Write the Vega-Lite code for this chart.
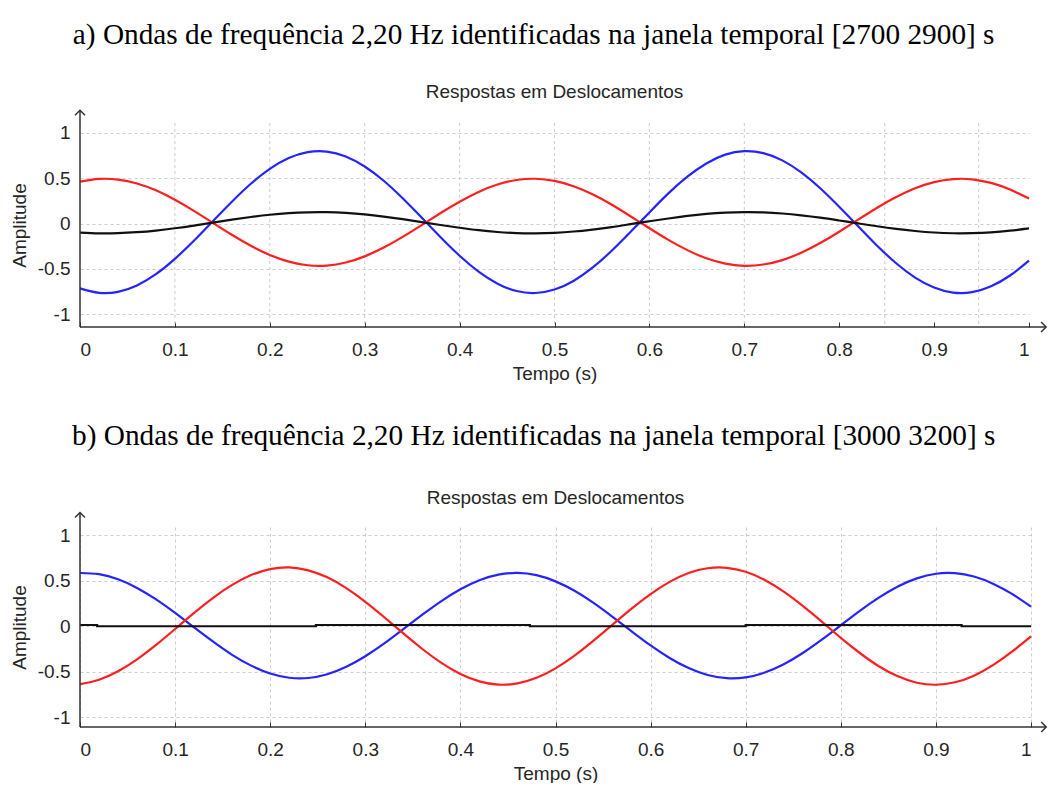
{
  "$schema": "https://vega.github.io/schema/vega-lite/v6.json",
  "background": "white",
  "padding": {"left": 10, "top": 21, "right": 0, "bottom": 0},
  "spacing": 39,
  "config": {
    "view": {"stroke": null},
    "font": "Liberation Sans",
    "axis": {
      "domain": false,
      "labelFont": "Liberation Sans",
      "labelFontSize": 19,
      "labelColor": "#262626",
      "titleFont": "Liberation Sans",
      "titleFontSize": 19,
      "titleFontWeight": "normal",
      "titleColor": "#262626",
      "gridColor": "#cccccc",
      "gridDash": [3, 3],
      "gridWidth": 1,
      "tickColor": "#333333",
      "tickWidth": 1
    },
    "axisX": {"tickSize": -5, "labelPadding": 18, "titlePadding": 5},
    "axisY": {"ticks": false, "labelPadding": 10, "titlePadding": 8},
    "line": {"strokeWidth": 2.2, "interpolate": "natural"}
  },
  "datasets": {
    "painelA": [
      {"t": 0, "vermelho": 0.463, "azul": -0.714, "preto": -0.099},
      {"t": 0.02, "vermelho": 0.493, "azul": -0.763, "preto": -0.107},
      {"t": 0.04, "vermelho": 0.486, "azul": -0.752, "preto": -0.105},
      {"t": 0.06, "vermelho": 0.443, "azul": -0.681, "preto": -0.094},
      {"t": 0.08, "vermelho": 0.367, "azul": -0.557, "preto": -0.076},
      {"t": 0.1, "vermelho": 0.263, "azul": -0.388, "preto": -0.051},
      {"t": 0.12, "vermelho": 0.141, "azul": -0.189, "preto": -0.021},
      {"t": 0.14, "vermelho": 0.009, "azul": 0.027, "preto": 0.012},
      {"t": 0.16, "vermelho": -0.123, "azul": 0.242, "preto": 0.044},
      {"t": 0.18, "vermelho": -0.244, "azul": 0.44, "preto": 0.073},
      {"t": 0.2, "vermelho": -0.345, "azul": 0.605, "preto": 0.098},
      {"t": 0.22, "vermelho": -0.419, "azul": 0.724, "preto": 0.116},
      {"t": 0.24, "vermelho": -0.459, "azul": 0.789, "preto": 0.125},
      {"t": 0.26, "vermelho": -0.462, "azul": 0.795, "preto": 0.126},
      {"t": 0.28, "vermelho": -0.429, "azul": 0.74, "preto": 0.118},
      {"t": 0.3, "vermelho": -0.361, "azul": 0.63, "preto": 0.102},
      {"t": 0.32, "vermelho": -0.264, "azul": 0.473, "preto": 0.078},
      {"t": 0.34, "vermelho": -0.146, "azul": 0.28, "preto": 0.049},
      {"t": 0.36, "vermelho": -0.016, "azul": 0.067, "preto": 0.017},
      {"t": 0.38, "vermelho": 0.117, "azul": -0.15, "preto": -0.015},
      {"t": 0.4, "vermelho": 0.242, "azul": -0.354, "preto": -0.045},
      {"t": 0.42, "vermelho": 0.35, "azul": -0.529, "preto": -0.072},
      {"t": 0.44, "vermelho": 0.431, "azul": -0.662, "preto": -0.092},
      {"t": 0.46, "vermelho": 0.481, "azul": -0.743, "preto": -0.104},
      {"t": 0.48, "vermelho": 0.495, "azul": -0.765, "preto": -0.107},
      {"t": 0.5, "vermelho": 0.471, "azul": -0.727, "preto": -0.101},
      {"t": 0.52, "vermelho": 0.413, "azul": -0.632, "preto": -0.087},
      {"t": 0.54, "vermelho": 0.324, "azul": -0.486, "preto": -0.065},
      {"t": 0.56, "vermelho": 0.211, "azul": -0.302, "preto": -0.038},
      {"t": 0.58, "vermelho": 0.082, "azul": -0.093, "preto": -0.006},
      {"t": 0.6, "vermelho": -0.051, "azul": 0.124, "preto": 0.026},
      {"t": 0.62, "vermelho": -0.179, "azul": 0.334, "preto": 0.057},
      {"t": 0.64, "vermelho": -0.292, "azul": 0.518, "preto": 0.085},
      {"t": 0.66, "vermelho": -0.382, "azul": 0.664, "preto": 0.107},
      {"t": 0.68, "vermelho": -0.441, "azul": 0.761, "preto": 0.121},
      {"t": 0.7, "vermelho": -0.465, "azul": 0.799, "preto": 0.127},
      {"t": 0.72, "vermelho": -0.451, "azul": 0.778, "preto": 0.124},
      {"t": 0.74, "vermelho": -0.402, "azul": 0.698, "preto": 0.112},
      {"t": 0.76, "vermelho": -0.321, "azul": 0.565, "preto": 0.092},
      {"t": 0.78, "vermelho": -0.214, "azul": 0.39, "preto": 0.066},
      {"t": 0.8, "vermelho": -0.089, "azul": 0.186, "preto": 0.035},
      {"t": 0.82, "vermelho": 0.044, "azul": -0.03, "preto": 0.003},
      {"t": 0.84, "vermelho": 0.175, "azul": -0.244, "preto": -0.029},
      {"t": 0.86, "vermelho": 0.293, "azul": -0.437, "preto": -0.058},
      {"t": 0.88, "vermelho": 0.39, "azul": -0.595, "preto": -0.081},
      {"t": 0.9, "vermelho": 0.458, "azul": -0.705, "preto": -0.098},
      {"t": 0.92, "vermelho": 0.492, "azul": -0.761, "preto": -0.106},
      {"t": 0.94, "vermelho": 0.489, "azul": -0.756, "preto": -0.105},
      {"t": 0.96, "vermelho": 0.449, "azul": -0.691, "preto": -0.096},
      {"t": 0.98, "vermelho": 0.376, "azul": -0.572, "preto": -0.078},
      {"t": 1, "vermelho": 0.276, "azul": -0.408, "preto": -0.053}
    ],
    "gradeA": [
      {"t": 0.1}, {"t": 0.2}, {"t": 0.3}, {"t": 0.4}, {"t": 0.5},
      {"t": 0.6}, {"t": 0.7}, {"t": 0.848}, {"t": 0.947}
    ],
    "painelB": [
      {"t": 0, "vermelho": -0.639, "azul": 0.584},
      {"t": 0.02, "vermelho": -0.59, "azul": 0.571},
      {"t": 0.04, "vermelho": -0.497, "azul": 0.515},
      {"t": 0.06, "vermelho": -0.366, "azul": 0.42},
      {"t": 0.08, "vermelho": -0.207, "azul": 0.293},
      {"t": 0.1, "vermelho": -0.032, "azul": 0.145},
      {"t": 0.12, "vermelho": 0.145, "azul": -0.014},
      {"t": 0.14, "vermelho": 0.311, "azul": -0.171},
      {"t": 0.16, "vermelho": 0.453, "azul": -0.316},
      {"t": 0.18, "vermelho": 0.561, "azul": -0.435},
      {"t": 0.2, "vermelho": 0.627, "azul": -0.522},
      {"t": 0.22, "vermelho": 0.645, "azul": -0.568},
      {"t": 0.24, "vermelho": 0.613, "azul": -0.571},
      {"t": 0.26, "vermelho": 0.536, "azul": -0.53},
      {"t": 0.28, "vermelho": 0.417, "azul": -0.448},
      {"t": 0.3, "vermelho": 0.267, "azul": -0.332},
      {"t": 0.32, "vermelho": 0.097, "azul": -0.191},
      {"t": 0.34, "vermelho": -0.081, "azul": -0.034},
      {"t": 0.36, "vermelho": -0.252, "azul": 0.125},
      {"t": 0.38, "vermelho": -0.405, "azul": 0.275},
      {"t": 0.4, "vermelho": -0.527, "azul": 0.405},
      {"t": 0.42, "vermelho": -0.608, "azul": 0.505},
      {"t": 0.44, "vermelho": -0.644, "azul": 0.566},
      {"t": 0.46, "vermelho": -0.63, "azul": 0.585},
      {"t": 0.48, "vermelho": -0.569, "azul": 0.56},
      {"t": 0.5, "vermelho": -0.465, "azul": 0.492},
      {"t": 0.52, "vermelho": -0.325, "azul": 0.388},
      {"t": 0.54, "vermelho": -0.16, "azul": 0.255},
      {"t": 0.56, "vermelho": 0.016, "azul": 0.102},
      {"t": 0.58, "vermelho": 0.192, "azul": -0.057},
      {"t": 0.6, "vermelho": 0.352, "azul": -0.213},
      {"t": 0.62, "vermelho": 0.486, "azul": -0.351},
      {"t": 0.64, "vermelho": 0.584, "azul": -0.462},
      {"t": 0.66, "vermelho": 0.636, "azul": -0.538},
      {"t": 0.68, "vermelho": 0.641, "azul": -0.573},
      {"t": 0.7, "vermelho": 0.597, "azul": -0.564},
      {"t": 0.72, "vermelho": 0.507, "azul": -0.511},
      {"t": 0.74, "vermelho": 0.379, "azul": -0.42},
      {"t": 0.76, "vermelho": 0.222, "azul": -0.296},
      {"t": 0.78, "vermelho": 0.049, "azul": -0.149},
      {"t": 0.8, "vermelho": -0.129, "azul": 0.009},
      {"t": 0.82, "vermelho": -0.296, "azul": 0.168},
      {"t": 0.84, "vermelho": -0.442, "azul": 0.313},
      {"t": 0.86, "vermelho": -0.553, "azul": 0.436},
      {"t": 0.88, "vermelho": -0.623, "azul": 0.525},
      {"t": 0.9, "vermelho": -0.645, "azul": 0.576},
      {"t": 0.92, "vermelho": -0.618, "azul": 0.582},
      {"t": 0.94, "vermelho": -0.545, "azul": 0.545},
      {"t": 0.96, "vermelho": -0.43, "azul": 0.467},
      {"t": 0.98, "vermelho": -0.282, "azul": 0.354},
      {"t": 1, "vermelho": -0.113, "azul": 0.214}
    ],
    "pretoB": [
      {"t": 0, "preto": 0.012},
      {"t": 0.018, "preto": -0.002},
      {"t": 0.248, "preto": 0.012},
      {"t": 0.473, "preto": -0.002},
      {"t": 0.7, "preto": 0.012},
      {"t": 0.927, "preto": -0.002},
      {"t": 1, "preto": -0.002}
    ]
  },
  "vconcat": [
    {
      "title": {
        "text": "a) Ondas de frequência 2,20 Hz identificadas na janela temporal [2700 2900] s",
        "font": "Liberation Serif", "fontSize": 29.3, "fontWeight": "normal", "color": "#000000",
        "anchor": "middle", "frame": "bounds", "offset": 33, "dx": 4
      },
      "vconcat": [
        {
          "width": 949,
          "height": 204,
          "title": {
            "text": "Respostas em Deslocamentos",
            "font": "Liberation Sans", "fontSize": 19, "fontWeight": "normal", "color": "#262626",
            "anchor": "middle", "offset": 5
          },
          "data": {"name": "painelA"},
          "layer": [
            {
              "data": {"name": "gradeA"},
              "mark": {"type": "rule", "color": "#cccccc", "strokeWidth": 1, "strokeDash": [3, 3]},
              "encoding": {
                "x": {"field": "t", "type": "quantitative"}
              }
            },
            {
              "mark": {"type": "line", "color": "#2424ff"},
              "encoding": {
                "x": {"field": "t", "type": "quantitative", "scale": {"domain": [0, 1], "nice": false, "zero": false},
                  "axis": {"values": [0, 0.1, 0.2, 0.3, 0.4, 0.5, 0.6, 0.7, 0.8, 0.9, 1], "format": "~g", "grid": false, "title": "Tempo (s)"}},
                "y": {"field": "azul", "type": "quantitative", "scale": {"domain": [-1.14, 1.11], "nice": false, "zero": false},
                  "axis": {"values": [-1, -0.5, 0, 0.5, 1], "grid": true, "title": "Amplitude",
                    "labelExpr": "datum.value < 0 ? '-' + format(-datum.value, '~g') : format(datum.value, '~g')"}}
              }
            },
            {
              "mark": {"type": "line", "color": "#ff1f1f"},
              "encoding": {
                "x": {"field": "t", "type": "quantitative"},
                "y": {"field": "vermelho", "type": "quantitative"}
              }
            },
            {
              "mark": {"type": "line", "color": "#111111"},
              "encoding": {
                "x": {"field": "t", "type": "quantitative"},
                "y": {"field": "preto", "type": "quantitative"}
              }
            },
            {
              "data": {"values": [{}]},
              "mark": {"type": "rule", "color": "#333333", "strokeWidth": 1.5},
              "encoding": {
                "x": {"datum": 0, "type": "quantitative"},
                "x2": {"datum": 1.018},
                "y": {"datum": -1.14, "type": "quantitative"}
              }
            },
            {
              "data": {"values": [{}]},
              "mark": {"type": "rule", "color": "#333333", "strokeWidth": 1.5},
              "encoding": {
                "x": {"datum": 0, "type": "quantitative"},
                "y": {"datum": -1.14, "type": "quantitative"},
                "y2": {"datum": 1.25}
              }
            },
            {
              "data": {"values": [{}]},
              "mark": {"type": "point", "shape": "M-1,-1L0,0L-1,1", "filled": false, "size": 100, "stroke": "#333333", "strokeWidth": 1.5, "opacity": 1},
              "encoding": {
                "x": {"datum": 1.018, "type": "quantitative"},
                "y": {"datum": -1.14, "type": "quantitative"}
              }
            },
            {
              "data": {"values": [{}]},
              "mark": {"type": "point", "shape": "M-1,1L0,0L1,1", "filled": false, "size": 100, "stroke": "#333333", "strokeWidth": 1.5, "opacity": 1},
              "encoding": {
                "x": {"datum": 0, "type": "quantitative"},
                "y": {"datum": 1.25, "type": "quantitative"}
              }
            }
          ]
        }
      ]
    },
    {
      "title": {
        "text": "b) Ondas de frequência 2,20 Hz identificadas na janela temporal [3000 3200] s",
        "font": "Liberation Serif", "fontSize": 29.3, "fontWeight": "normal", "color": "#000000",
        "anchor": "middle", "frame": "bounds", "offset": 38, "dx": 4
      },
      "vconcat": [
        {
          "width": 951,
          "height": 200,
          "title": {
            "text": "Respostas em Deslocamentos",
            "font": "Liberation Sans", "fontSize": 19, "fontWeight": "normal", "color": "#262626",
            "anchor": "middle", "offset": 1
          },
          "data": {"name": "painelB"},
          "layer": [
            {
              "mark": {"type": "line", "color": "#2424ff"},
              "encoding": {
                "x": {"field": "t", "type": "quantitative", "scale": {"domain": [0, 1], "nice": false, "zero": false},
                  "axis": {"values": [0, 0.1, 0.2, 0.3, 0.4, 0.5, 0.6, 0.7, 0.8, 0.9, 1], "format": "~g", "grid": true, "title": "Tempo (s)"}},
                "y": {"field": "azul", "type": "quantitative", "scale": {"domain": [-1.11, 1.09], "nice": false, "zero": false},
                  "axis": {"values": [-1, -0.5, 0, 0.5, 1], "grid": true, "title": "Amplitude",
                    "labelExpr": "datum.value < 0 ? '-' + format(-datum.value, '~g') : format(datum.value, '~g')"}}
              }
            },
            {
              "mark": {"type": "line", "color": "#ff1f1f"},
              "encoding": {
                "x": {"field": "t", "type": "quantitative"},
                "y": {"field": "vermelho", "type": "quantitative"}
              }
            },
            {
              "data": {"name": "pretoB"},
              "mark": {"type": "line", "color": "#111111", "interpolate": "step-after"},
              "encoding": {
                "x": {"field": "t", "type": "quantitative"},
                "y": {"field": "preto", "type": "quantitative"}
              }
            },
            {
              "data": {"values": [{}]},
              "mark": {"type": "rule", "color": "#333333", "strokeWidth": 1.5},
              "encoding": {
                "x": {"datum": 0, "type": "quantitative"},
                "x2": {"datum": 1.016},
                "y": {"datum": -1.11, "type": "quantitative"}
              }
            },
            {
              "data": {"values": [{}]},
              "mark": {"type": "rule", "color": "#333333", "strokeWidth": 1.5},
              "encoding": {
                "x": {"datum": 0, "type": "quantitative"},
                "y": {"datum": -1.11, "type": "quantitative"},
                "y2": {"datum": 1.25}
              }
            },
            {
              "data": {"values": [{}]},
              "mark": {"type": "point", "shape": "M-1,-1L0,0L-1,1", "filled": false, "size": 100, "stroke": "#333333", "strokeWidth": 1.5, "opacity": 1},
              "encoding": {
                "x": {"datum": 1.016, "type": "quantitative"},
                "y": {"datum": -1.11, "type": "quantitative"}
              }
            },
            {
              "data": {"values": [{}]},
              "mark": {"type": "point", "shape": "M-1,1L0,0L1,1", "filled": false, "size": 100, "stroke": "#333333", "strokeWidth": 1.5, "opacity": 1},
              "encoding": {
                "x": {"datum": 0, "type": "quantitative"},
                "y": {"datum": 1.25, "type": "quantitative"}
              }
            }
          ]
        }
      ]
    }
  ]
}
